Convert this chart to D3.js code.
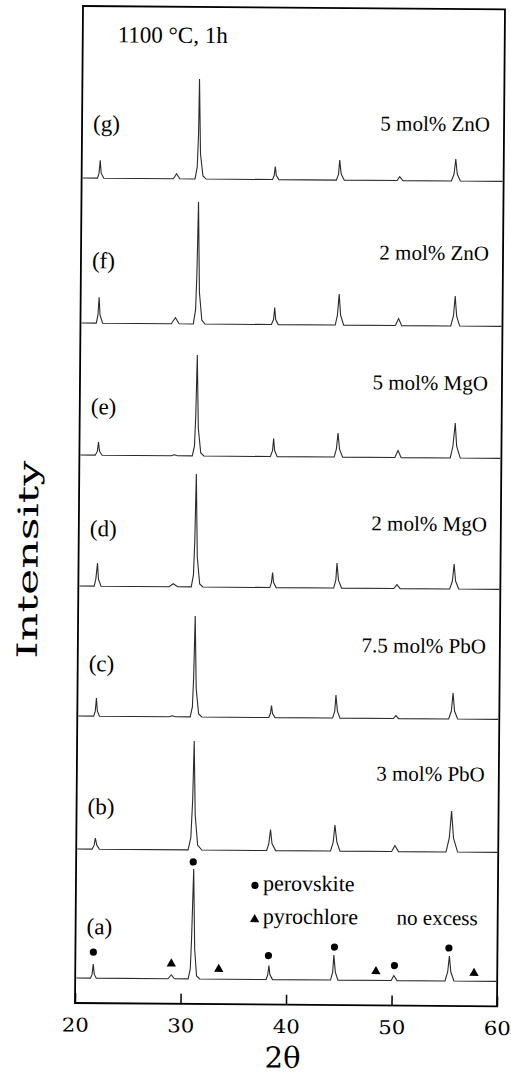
<!DOCTYPE html>
<html>
<head>
<meta charset="utf-8">
<script src="https://cdn.jsdelivr.net/npm/d3@7"></script>
<style>
  body { margin: 0; background: #fff; }
</style>
</head>
<body>
<div id="chart-area"></div>
<script>
// ---- data ----
var xTicks = [20, 30, 40, 50, 60];
var sampleNames = ["(a)", "(b)", "(c)", "(d)", "(e)", "(f)", "(g)"];
var sampleNotes = ["no excess", "3 mol% PbO", "7.5 mol% PbO", "2 mol% MgO", "5 mol% MgO", "2 mol% ZnO", "5 mol% ZnO"];
var offsets = [0, 129, 262, 392, 523, 655, 800];

var traceA = [[20.1,0],[21.45,0],[21.6,4],[21.7,14],[21.8,4],[22.0,0],
  [28.8,0],[29.1,4],[29.4,0],
  [30.7,0],[30.9,10],[31.0,40],[31.15,110],[31.3,30],[31.5,3],[31.8,0],
  [38.1,0],[38.25,5],[38.35,14],[38.45,5],[38.7,0],
  [44.2,0],[44.4,8],[44.5,25],[44.65,8],[44.9,0],
  [49.95,0],[50.2,5],[50.5,0],
  [55.05,0],[55.3,9],[55.45,25],[55.6,9],[55.9,0],
  [59.9,0]];
var traceB = [[20.1,0],[21.5,0],[21.7,4],[21.8,11],[21.95,4],[22.2,0],
  [30.6,0],[30.85,12],[31.0,50],[31.1,109],[31.25,35],[31.5,5],[31.9,0],
  [38.05,0],[38.25,7],[38.4,21],[38.55,7],[38.9,0],
  [44.1,0],[44.35,9],[44.5,26],[44.7,9],[45.0,0],
  [49.9,0],[50.2,6],[50.55,0],
  [55.05,0],[55.35,14],[55.55,41],[55.75,14],[56.15,0],
  [59.9,0]];
var traceC = [[20.1,0],[21.55,0],[21.7,5],[21.8,18],[21.9,5],[22.1,0],
  [28.7,0],[29.0,1],[29.3,0],
  [30.7,0],[30.9,10],[31.0,40],[31.1,101],[31.25,28],[31.5,3],[31.8,0],
  [38.15,0],[38.3,4],[38.4,12],[38.5,4],[38.75,0],
  [44.2,0],[44.4,7],[44.5,23],[44.65,7],[44.9,0],
  [49.95,0],[50.2,3],[50.45,0],
  [55.2,0],[55.45,8],[55.6,26],[55.75,8],[56.05,0],
  [59.9,0]];
var traceD = [[20.1,0],[21.5,0],[21.65,7],[21.8,23],[21.9,7],[22.15,0],
  [28.6,0],[29.0,3],[29.4,0],
  [30.7,0],[30.9,12],[31.0,45],[31.1,113],[31.25,30],[31.5,3],[31.8,0],
  [38.15,0],[38.3,5],[38.4,15],[38.5,5],[38.75,0],
  [44.2,0],[44.4,8],[44.5,25],[44.65,8],[44.95,0],
  [49.9,0],[50.2,4],[50.5,0],
  [55.2,0],[55.45,8],[55.6,25],[55.75,8],[56.05,0],
  [59.9,0]];
var traceE = [[20.1,0],[21.5,0],[21.7,4],[21.8,13],[21.9,4],[22.15,0],
  [28.7,0],[29.0,1],[29.3,0],
  [30.7,0],[30.9,10],[31.0,40],[31.1,101],[31.25,28],[31.5,3],[31.8,0],
  [38.1,0],[38.3,6],[38.4,18],[38.5,6],[38.75,0],
  [44.15,0],[44.35,8],[44.5,24],[44.65,8],[44.95,0],
  [49.9,0],[50.2,7],[50.5,0],
  [55.15,0],[55.4,12],[55.6,35],[55.75,12],[56.1,0],
  [59.9,0]];
var traceF = [[20.1,0],[21.5,0],[21.65,8],[21.75,26],[21.85,8],[22.1,0],
  [28.6,0],[29.0,6],[29.35,0],
  [30.7,0],[30.9,14],[31.0,50],[31.1,122],[31.25,32],[31.5,4],[31.8,0],
  [38.1,0],[38.3,5],[38.4,17],[38.5,5],[38.75,0],
  [44.15,0],[44.35,10],[44.5,31],[44.65,10],[44.95,0],
  [49.85,0],[50.15,7],[50.45,0],
  [55.1,0],[55.35,10],[55.5,30],[55.65,10],[55.95,0],
  [59.9,0]];
var traceG = [[20.1,0],[21.5,0],[21.65,5],[21.75,18],[21.85,5],[22.1,0],
  [28.7,0],[29.0,5],[29.3,0],
  [30.75,0],[30.95,12],[31.05,45],[31.1,100],[31.25,25],[31.5,3],[31.8,0],
  [38.1,0],[38.25,4],[38.35,13],[38.45,4],[38.7,0],
  [44.15,0],[44.35,6],[44.45,20],[44.6,6],[44.9,0],
  [49.9,0],[50.15,4],[50.45,0],
  [55.05,0],[55.3,7],[55.45,22],[55.6,7],[55.9,0],
  [59.9,0]];
var traces = [traceA, traceB, traceC, traceD, traceE, traceF, traceG];

// phase marks on trace (a)
var perovskiteMarks = [[21.7,26],[31.1,117],[38.3,24],[44.55,33],[50.25,15],[55.4,33]];
var pyrochloreMarks = [[29.1,15],[33.6,10],[48.5,9],[57.8,8]];

// ---- layout ----
var width = 511, height = 1075;
var letterDy = [44, 35, 45, 50, 41, 55, 47];
var noteDy = [56, 71, 66, 58, 68, 66, 50];

var svg = d3.select("#chart-area").append("svg")
    .attr("width", width)
    .attr("height", height);

// the scanned figure is slightly tilted
var g = svg.append("g")
    .attr("transform", "rotate(0.46 75 1003)");

var x = d3.scaleLinear().domain([20, 60]).range([75, 497]);
var y = d3.scaleLinear().domain([-25, 972]).range([1003, 6]);

var serif = "'Liberation Serif', 'Times New Roman', serif";
var slab = "'DejaVu Serif', serif";

// traces
var line = d3.line()
    .x(function(d) { return x(d[0]); })
    .y(function(d) { return y(d[1]); });

g.selectAll(".trace")
    .data(traces).enter()
    .append("path")
        .attr("class", "trace")
        .attr("fill", "none")
        .attr("stroke", "#2a2a2a")
        .attr("stroke-width", 1.1)
        .attr("d", function(d, i) {
            return line(d.map(function(p) { return [p[0], p[1] + offsets[i]]; }));
        });

// frame
g.append("rect")
    .attr("x", x(20))
    .attr("y", y(972))
    .attr("width", x(60) - x(20))
    .attr("height", y(-25) - y(972))
    .attr("fill", "none")
    .attr("stroke", "#000")
    .attr("stroke-width", 1.8);

// x-axis, ticks pointing inside
var xAxis = g.append("g")
    .attr("transform", "translate(0 " + y(-25) + ")")
    .call(d3.axisBottom(x)
        .tickValues(xTicks)
        .tickSizeInner(-10)
        .tickSizeOuter(0)
        .tickPadding(15));
xAxis.select(".domain").remove();
xAxis.selectAll("line").attr("stroke", "#000").attr("stroke-width", 1.5);
xAxis.selectAll("text")
    .attr("font-family", slab)
    .attr("font-size", 19)
    .attr("textLength", 27)
    .attr("lengthAdjust", "spacingAndGlyphs")
    .attr("fill", "#000");

// axis titles
g.append("text")
    .attr("x", 283)
    .attr("y", 1066)
    .attr("text-anchor", "middle")
    .attr("font-family", slab)
    .attr("font-size", 29)
    .attr("textLength", 36)
    .attr("lengthAdjust", "spacingAndGlyphs")
    .text("2θ");

g.append("text")
    .attr("transform", "translate(34 560) rotate(-90)")
    .attr("text-anchor", "middle")
    .attr("font-family", slab)
    .attr("font-size", 28)
    .attr("textLength", 198)
    .attr("lengthAdjust", "spacingAndGlyphs")
    .text("Intensity");

// condition
g.append("text")
    .attr("x", 110)
    .attr("y", 42)
    .attr("font-family", serif)
    .attr("font-size", 23)
    .text("1100 °C, 1h");

// sample letters
g.selectAll(".letter")
    .data(sampleNames).enter()
    .append("text")
        .attr("class", "letter")
        .attr("x", 86)
        .attr("y", function(d, i) { return y(offsets[i] + letterDy[i]); })
        .attr("font-family", serif)
        .attr("font-size", 23)
        .text(function(d) { return d; });

// sample notes
g.selectAll(".note")
    .data(sampleNotes).enter()
    .append("text")
        .attr("class", "note")
        .attr("x", function(d, i) { return i == 0 ? 477 : 483; })
        .attr("y", function(d, i) { return y(offsets[i] + noteDy[i]); })
        .attr("text-anchor", "end")
        .attr("font-family", serif)
        .attr("font-size", 21)
        .text(function(d) { return d; });

// phase marks
g.selectAll(".dot")
    .data(perovskiteMarks).enter()
    .append("circle")
        .attr("class", "dot")
        .attr("cx", function(d) { return x(d[0]); })
        .attr("cy", function(d) { return y(d[1]); })
        .attr("r", 3.6)
        .attr("fill", "#000");

var tri = d3.symbol().type(d3.symbolTriangle).size(38);
g.selectAll(".tri")
    .data(pyrochloreMarks).enter()
    .append("path")
        .attr("class", "tri")
        .attr("transform", function(d) { return "translate(" + x(d[0]) + " " + y(d[1]) + ")"; })
        .attr("d", tri)
        .attr("fill", "#000");

// legend
g.append("circle").attr("cx", 254).attr("cy", 884).attr("r", 3.6).attr("fill", "#000");
g.append("text").attr("x", 262).attr("y", 889)
    .attr("font-family", serif).attr("font-size", 22).text("perovskite");
g.append("path").attr("transform", "translate(254 918)").attr("d", tri).attr("fill", "#000");
g.append("text").attr("x", 262).attr("y", 922)
    .attr("font-family", serif).attr("font-size", 22).text("pyrochlore");
</script>
</body>
</html>
